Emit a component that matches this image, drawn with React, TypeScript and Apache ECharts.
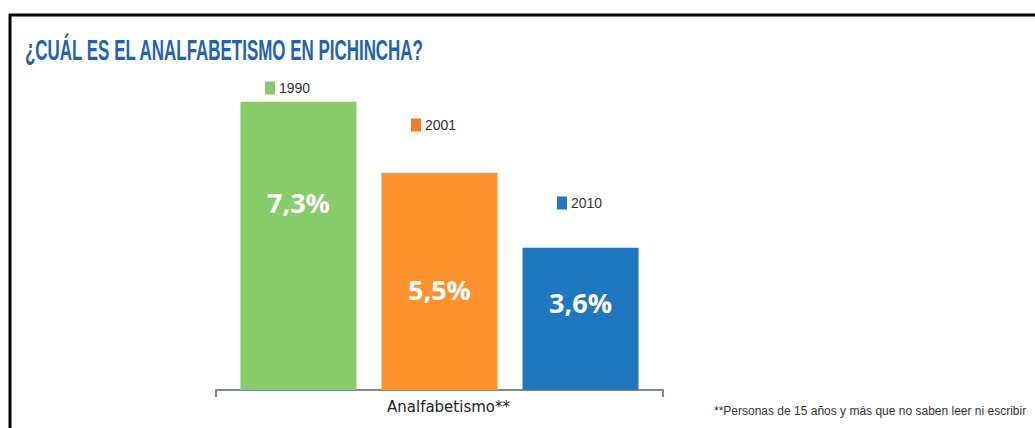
import React, { useEffect, useRef } from "react";
import * as echarts from "echarts";

const categories = ["Analfabetismo**"];
const years = ["1990", "2001", "2010"];
const values = [7.3, 5.5, 3.6];
const labels = ["7,3%", "5,5%", "3,6%"];
const colors = ["#86cc6a", "#fd922d", "#1f77c0"];
const legendIconColors = ["#86cc6a", "#f57a2d", "#1f77c0"];
const labelOffsets = [-43, 8, -16];
const legendPos = [
  { left: 265, top: 81 },
  { left: 411, top: 118 },
  { left: 557, top: 196 },
];

const NARROW = "'Liberation Sans Narrow', 'Liberation Sans', Arial, sans-serif";

export default function App() {
  const ref = useRef<HTMLDivElement>(null);
  useEffect(() => {
    document.body.style.margin = "0";
    const chart = echarts.init(ref.current!, null, { renderer: "svg" });
    chart.setOption({
      animation: false,
      backgroundColor: "#ffffff",
      grid: { left: 216, width: 447, top: 74, bottom: 38 },
      legend: years.map((y, i) => ({
        show: true,
        data: [{ name: y, itemStyle: { color: legendIconColors[i] } }],
        left: legendPos[i].left,
        top: legendPos[i].top,
        padding: 0,
        itemWidth: 10,
        itemHeight: 13,
        itemGap: 5,
        icon: "rect",
        textStyle: { fontFamily: NARROW, fontSize: 14, color: "#333333", padding: [0, 0, 0, -1] },
      })),
      xAxis: {
        type: "category",
        data: categories,
        axisLine: { show: true, lineStyle: { color: "#7f8a8a", width: 2 } },
        axisTick: { show: true, length: 7, alignWithLabel: false, lineStyle: { color: "#7f8a8a", width: 2 } },
        axisLabel: {
          fontFamily: "'DejaVu Sans', sans-serif",
          fontSize: 15,
          color: "#222222",
          margin: 9,
          padding: [0, 0, 0, 18],
        },
      },
      yAxis: {
        type: "value",
        min: 0,
        max: 8,
        show: false,
        splitLine: { show: false },
      },
      series: years.map((y, i) => ({
        name: y,
        type: "bar",
        barWidth: 116,
        barGap: "21.6%",
        data: [values[i]],
        itemStyle: { color: colors[i] },
        label: {
          show: true,
          position: "inside",
          offset: [0, labelOffsets[i]],
          formatter: () => labels[i],
          color: "#ffffff",
          fontFamily: "'Open Sans', sans-serif",
          fontWeight: "bold",
          fontSize: 27,
        },
      })),
      graphic: [
        {
          type: "line",
          shape: { x1: 10, y1: 14, x2: 10, y2: 428 },
          style: { stroke: "#000000", lineWidth: 3 },
        },
        {
          type: "line",
          shape: { x1: 9, y1: 15, x2: 1035, y2: 15 },
          style: { stroke: "#000000", lineWidth: 3 },
        },
        {
          type: "text",
          x: 25,
          y: 35,
          scaleX: 0.565,
          style: {
            text: "¿CUÁL ES EL ANALFABETISMO EN PICHINCHA?",
            fontFamily: NARROW,
            fontWeight: "bold",
            fontSize: 30,
            fill: "#1f62b0",
          },
        },
        {
          type: "text",
          x: 714,
          y: 405,
          style: {
            text: "**Personas de 15 años y más que no saben leer ni escribir",
            fontFamily: NARROW,
            fontSize: 12,
            fill: "#333333",
          },
        },
      ],
    });
    return () => chart.dispose();
  }, []);
  return <div ref={ref} style={{ width: 1035, height: 428 }} />;
}
